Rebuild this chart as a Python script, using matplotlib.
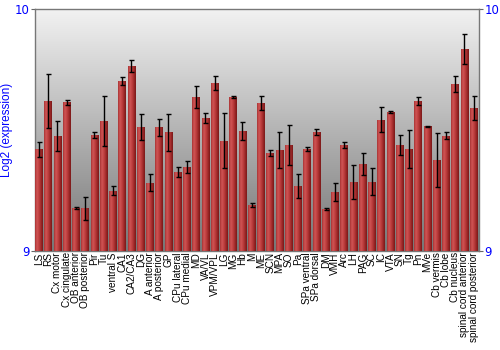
import numpy as np
import matplotlib
matplotlib.use("Agg")
import matplotlib.pyplot as plt
from matplotlib.colors import LinearSegmentedColormap

regions = ["LS", "RS", "Cx motor", "Cx cingulate", "OB anterior", "OB posterior",
           "Pir", "Tu", "ventral S", "CA1", "CA2/CA3", "DG", "A anterior",
           "A posterior", "GP", "CPu lateral", "CPu medial", "MD", "VA/VL",
           "VPM/VPL", "LG", "MG", "Hb", "M", "ME", "SCN", "MPA", "SO", "Pa",
           "SPa ventral", "SPa dorsal", "DM", "VMH", "Arc", "LH", "PAG", "SC",
           "IC", "VTA", "SN", "Tg", "Pn", "MVe", "Cb vermis", "Cb lobe",
           "Cb nucleus", "spinal cord anterior", "spinal cord posterior"]

expression = [9.421, 9.620, 9.475, 9.614, 9.179, 9.177, 9.479, 9.538, 9.249,
              9.702, 9.764, 9.512, 9.282, 9.511, 9.490, 9.326, 9.346, 9.636,
              9.550, 9.694, 9.455, 9.636, 9.496, 9.191, 9.612, 9.405, 9.417,
              9.438, 9.269, 9.423, 9.492, 9.172, 9.243, 9.437, 9.284, 9.360,
              9.287, 9.543, 9.573, 9.438, 9.423, 9.620, 9.515, 9.376, 9.477,
              9.691, 9.835, 9.592]

errors = [0.031, 0.110, 0.063, 0.010, 0.004, 0.047, 0.014, 0.103, 0.018,
          0.017, 0.025, 0.055, 0.036, 0.036, 0.078, 0.021, 0.025, 0.045,
          0.020, 0.028, 0.114, 0.004, 0.036, 0.009, 0.028, 0.014, 0.076,
          0.084, 0.050, 0.008, 0.014, 0.004, 0.036, 0.012, 0.070, 0.047,
          0.054, 0.053, 0.004, 0.041, 0.079, 0.015, 0.003, 0.112, 0.016,
          0.032, 0.064, 0.049]

blue = "#0000ff"
fig = plt.figure(figsize=(5, 3.5), dpi=100)
ax = fig.add_axes([0.07, 0.283, 0.888, 0.691])

# grey vertical gradient behind the bars
bg = LinearSegmentedColormap.from_list("bg", ["#767676", "#b4b4b4", "#f2f2f2"])
ax.imshow(np.linspace(0, 1, 256).reshape(-1, 1), cmap=bg, aspect="auto",
          extent=[0, 1, 0, 1], transform=ax.transAxes, origin="lower", zorder=0)

x = np.arange(len(regions))
width = 0.86
bars = ax.bar(x, np.array(expression) - 9, bottom=9, width=width, align="edge",
              color="#b03030", zorder=2)

# shaded red bars
shade = LinearSegmentedColormap.from_list(
    "shade", ["#a83434", "#d05555", "#c04040", "#a02a2a", "#7a1818"])
grad = np.linspace(0, 1, 64).reshape(1, -1)
for b in bars:
    x0, y0 = b.get_x(), b.get_y()
    im = ax.imshow(grad, cmap=shade, aspect="auto", zorder=3,
                   extent=[x0, x0 + b.get_width(), y0, y0 + b.get_height()])
    im.set_clip_path(b)

ax.errorbar(x + width / 2, expression, yerr=errors, fmt="none", ecolor="black",
            elinewidth=1, capsize=1.8, capthick=1, zorder=4)

ax.set_xlim(0, len(regions))
ax.set_ylim(9, 10)
ax.set_xticks(x + width / 2)
ax.set_xticklabels(regions, rotation=90, fontsize=7.2, family="Liberation Sans")
ax.tick_params(axis="x", length=0, pad=1)
ax.set_yticks([9, 10])
ax.tick_params(axis="y", colors="#666666", labelcolor=blue, labelsize=8.5,
               length=3, right=True, labelright=True, pad=1)
ax.set_ylabel("Log2 (expression)", color=blue, fontsize=8.5,
              family="Liberation Sans", labelpad=1)
for s in ax.spines.values():
    s.set_color("#777777")
    s.set_linewidth(1)

fig.savefig("out.png", dpi=100)
